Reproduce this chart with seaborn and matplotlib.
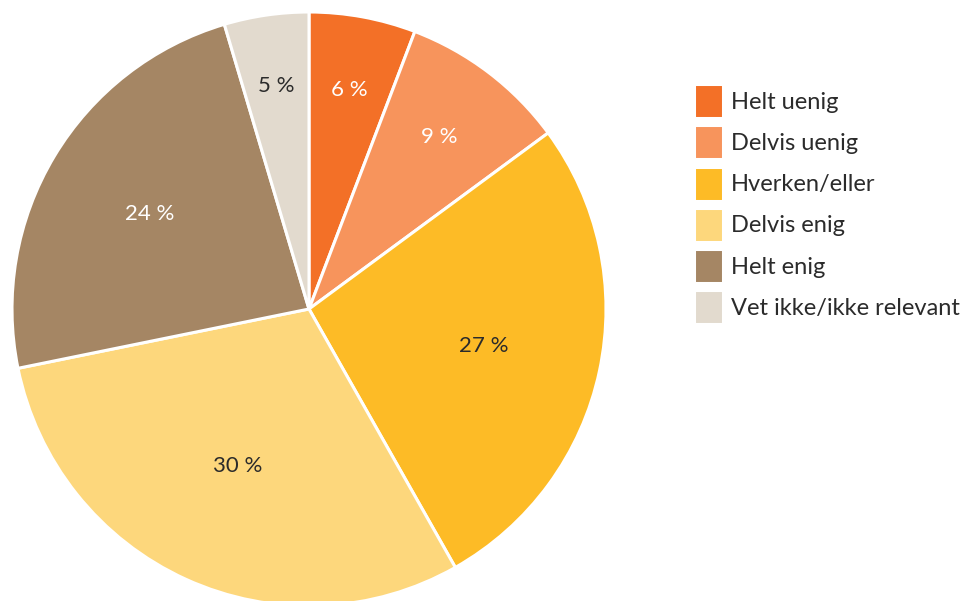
import matplotlib
matplotlib.use('Agg')
import matplotlib.pyplot as plt
import seaborn as sns
import numpy as np

# Survey answers (share of respondents, %)
categories = ['Helt uenig', 'Delvis uenig', 'Hverken/eller', 'Delvis enig',
              'Helt enig', 'Vet ikke/ikke relevant']
values = [5.8, 9.1, 26.9, 30.0, 23.6, 4.6]
colors = ['#F37027', '#F7945C', '#FDBB26', '#FDD77C', '#A58664', '#E2DACE']
label_colors = ['white', 'white', '#2b2b2b', '#2b2b2b', 'white', '#2b2b2b']

sns.set_theme(style='white')
plt.rcParams['font.family'] = ['Lato', 'DejaVu Sans']

fig = plt.figure(figsize=(9.62, 6.01), dpi=100)
ax = fig.add_axes([12 / 962, -5 / 601, 594 / 962, 594 / 601])

wedges, texts, autotexts = ax.pie(
    values, colors=colors, startangle=90, counterclock=False,
    autopct=lambda p: f'{p:.0f} %', pctdistance=0.65,
    wedgeprops=dict(edgecolor='white', linewidth=2.2),
    textprops=dict(fontsize=16))

# move labels: smaller slices get labels further out
total = sum(values)
for w, t, c, v in zip(wedges, autotexts, label_colors, values):
    ang = np.deg2rad((w.theta1 + w.theta2) / 2)
    r = 0.79 - 0.7 * v / total
    t.set_position((r * np.cos(ang), r * np.sin(ang)))
    t.set_color(c)

ax.set_xlim(-1, 1)
ax.set_ylim(-1, 1)
ax.set_aspect('equal')

fig.legend(wedges, categories, loc='upper left',
           bbox_to_anchor=(694 / 962, 1 - 84 / 601), frameon=False,
           fontsize=17, handlelength=1.23, handleheight=1.85,
           labelspacing=0.3, handletextpad=0.34, borderpad=0,
           borderaxespad=0, labelcolor='#2b2b2b')

fig.savefig('out.png', dpi=100)
